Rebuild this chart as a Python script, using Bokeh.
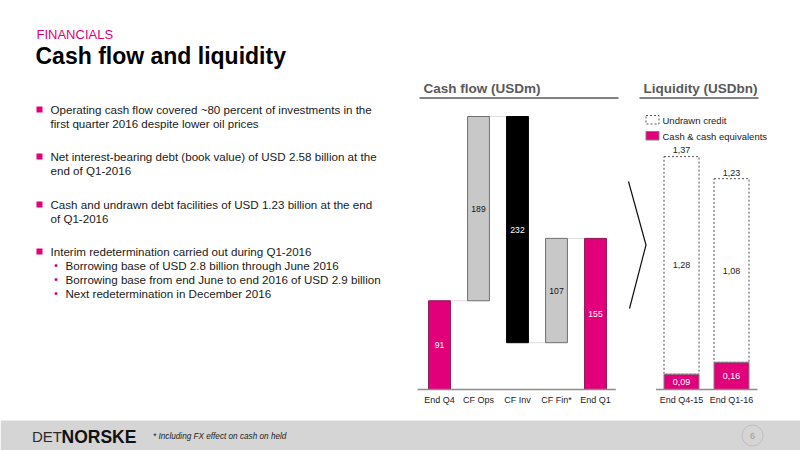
from bokeh.plotting import figure
from bokeh.models import Range1d
from bokeh.embed import file_html
from bokeh.resources import INLINE
from bokeh.core.properties import value

# ---------------- data ----------------
cf_categories = ["End Q4", "CF Ops", "CF Inv", "CF Fin*", "End Q1"]
cf_values = [91, 189, -232, 107, 155]
cf_is_total = [True, False, False, False, True]

liq_categories = ["End Q4-15", "End Q1-16"]
liq_cash = [0.09, 0.16]
liq_undrawn = [1.28, 1.08]
liq_total = [1.37, 1.23]

bullets = [
    ["Operating cash flow covered ~80 percent of investments in the",
     "first quarter 2016 despite lower oil prices"],
    ["Net interest-bearing debt (book value) of USD 2.58 billion at the",
     "end of Q1-2016"],
    ["Cash and undrawn debt facilities of USD 1.23 billion at the end",
     "of Q1-2016"],
    ["Interim redetermination carried out during Q1-2016"],
]
sub_bullets = [
    "Borrowing base of USD 2.8 billion through June 2016",
    "Borrowing base from end June to end 2016 of USD 2.9 billion",
    "Next redetermination in December 2016",
]

# ---------------- styles ----------------
PINK = "#E2007A"
FONT = value("Liberation Sans")
W, H = 800, 450
OX, OY = 0, 0


def make_range(px0, v0, ppu, frame_start, frame_len, downward=False):
    if downward:
        # value increases upward; frame_start is the bottom pixel (page y)
        start = v0 - (frame_start - px0) / ppu
    else:
        start = v0 - (px0 - frame_start) / ppu
    return Range1d(start, start + frame_len / ppu)


p = figure(width=W, height=H, x_range=Range1d(OX, OX + W), y_range=Range1d(OY + H, OY),
           output_backend="svg", toolbar_location=None, min_border=0,
           x_axis_type=None, y_axis_type=None)
p.grid.visible = False
p.outline_line_color = None
p.background_fill_color = "white"
p.border_fill_color = "white"

# chart scales (layout anchors in page pixels)
p.extra_x_ranges = {
    "cfx": make_range(439, 0, 39.0, OX, W),
    "lqx": make_range(681, 0, 50.0, OX, W),
}
p.extra_y_ranges = {
    "cfy": make_range(389, 0, 0.975, OY + H, H, downward=True),
    "lqy": make_range(389, 0, 170.0, OY + H, H, downward=True),
}

# ---------------- header ----------------
p.text(x=[36], y=[34], text=["FINANCIALS"], text_font=FONT, text_font_size="13px",
       text_color=PINK, text_baseline="middle")
p.text(x=[35], y=[55], text=["Cash flow and liquidity"], text_font=FONT, text_font_size="23px",
       text_font_style="bold", text_color="#000000", text_baseline="middle")

# ---------------- left bullets ----------------
first_y = [109, 156, 204, 251]
lx, ly, lt = [], [], []
for b, y0 in zip(bullets, first_y):
    for j, line in enumerate(b):
        lx.append(50)
        ly.append(y0 + j * 14)
        lt.append(line)
p.text(x=lx, y=ly, text=lt, text_font=FONT, text_font_size="11.6px",
       text_color="#1a1a1a", text_baseline="middle")
p.quad(left=[36] * 4, right=[42] * 4, top=[y - 3 for y in first_y], bottom=[y + 3 for y in first_y],
       fill_color=PINK, line_color=None)
sub_y = [265, 279, 293]
p.text(x=[65] * 3, y=sub_y, text=sub_bullets, text_font=FONT, text_font_size="11.6px",
       text_color="#1a1a1a", text_baseline="middle")
p.scatter(x=[55.5] * 3, y=sub_y, size=3, marker="circle", fill_color=PINK, line_color=None)

# ---------------- chart headers ----------------
p.text(x=[423, 643], y=[88, 88], text=["Cash flow (USDm)", "Liquidity (USDbn)"], text_font=FONT,
       text_font_size="13.5px", text_font_style="bold", text_color="#595959", text_baseline="middle")
p.segment(x0=[419, 639], y0=[97.5, 97.5], x1=[618, 758], y1=[97.5, 97.5],
          line_color="#595959", line_width=1.5)

# ---------------- cash flow waterfall ----------------
bottoms, tops = [], []
running = 0
for v, tot in zip(cf_values, cf_is_total):
    if tot:
        bottoms.append(0)
        tops.append(v)
        running = v
    else:
        bottoms.append(running)
        tops.append(running + v)
        running += v
xs = list(range(len(cf_categories)))
fill_colors = [PINK, "#C8C8C8", "#000000", "#C8C8C8", PINK]
line_colors = ["#8E1455", "#6E6E6E", "#000000", "#6E6E6E", "#8E1455"]
label_colors = ["white", "#111111", "white", "#111111", "white"]
bw = 0.56

# connectors
cx0, cx1, cy = [], [], []
for i in range(len(xs) - 1):
    cx0.append(xs[i] + bw / 2)
    cx1.append(xs[i + 1] - bw / 2)
    cy.append(tops[i])
p.segment(x0=cx0, y0=cy, x1=cx1, y1=cy, line_color="#BBBBBB", line_dash="1 1", line_width=1,
          x_range_name="cfx", y_range_name="cfy")

p.vbar(x=xs, bottom=bottoms, top=tops, width=bw, fill_color=fill_colors, line_color=line_colors,
       line_width=1, x_range_name="cfx", y_range_name="cfy")
mids = [(b + t) / 2 for b, t in zip(bottoms, tops)]
p.text(x=xs, y=mids, text=[str(abs(v)) for v in cf_values], text_font=FONT, text_font_size="8.6px",
       text_color=label_colors, text_align="center", text_baseline="middle",
       x_range_name="cfx", y_range_name="cfy")
# baseline + category labels
p.segment(x0=[-0.56], y0=[0], x1=[4.52], y1=[0], line_color="#8C8C8C", line_width=1.5,
          x_range_name="cfx", y_range_name="cfy")
p.text(x=xs, y=[0] * len(xs), y_offset=[10] * len(xs), text=cf_categories, text_font=FONT,
       text_font_size="9px", text_color="#222222", text_align="center", text_baseline="middle",
       x_range_name="cfx", y_range_name="cfy")

# ---------------- chevron ----------------
p.line(x=[628, 645.5, 629], y=[181, 244.5, 308], line_color="#111111", line_width=1.2)

# ---------------- liquidity ----------------
lxs = list(range(len(liq_categories)))
lbw = 0.7
tops_u = [c + u for c, u in zip(liq_cash, liq_undrawn)]
p.vbar(x=lxs, bottom=liq_cash, top=tops_u, width=lbw, fill_color="white", line_color="#555555",
       line_dash="2 2", line_width=1, x_range_name="lqx", y_range_name="lqy")
p.vbar(x=lxs, bottom=[0] * 2, top=liq_cash, width=lbw, fill_color=PINK, line_color="#7F7F7F",
       line_width=1, x_range_name="lqx", y_range_name="lqy")


def fmt(v):
    return f"{v:.2f}".replace(".", ",")


p.text(x=lxs, y=[c / 2 for c in liq_cash], text=[fmt(v) for v in liq_cash], text_font=FONT,
       text_font_size="9px", text_color="white", text_align="center", text_baseline="middle",
       x_range_name="lqx", y_range_name="lqy")
p.text(x=lxs, y=[c + u / 2 for c, u in zip(liq_cash, liq_undrawn)], text=[fmt(v) for v in liq_undrawn],
       text_font=FONT, text_font_size="9px", text_color="#222222", text_align="center",
       text_baseline="middle", x_range_name="lqx", y_range_name="lqy")
p.text(x=lxs, y=liq_total, y_offset=[-7] * 2, text=[fmt(v) for v in liq_total], text_font=FONT,
       text_font_size="9px", text_color="#222222", text_align="center", text_baseline="middle",
       x_range_name="lqx", y_range_name="lqy")
p.segment(x0=[-0.51], y0=[0], x1=[1.52], y1=[0], line_color="#8C8C8C", line_width=1.5,
          x_range_name="lqx", y_range_name="lqy")
p.text(x=lxs, y=[0] * 2, y_offset=[10] * 2, text=liq_categories, text_font=FONT,
       text_font_size="9px", text_color="#222222", text_align="center", text_baseline="middle",
       x_range_name="lqx", y_range_name="lqy")

# legend
p.quad(left=[645.5], right=[658.5], top=[115], bottom=[123.5], fill_color="white",
       line_color="#555555", line_dash="2 2", line_width=1)
p.quad(left=[645.5], right=[658.5], top=[131], bottom=[139.5], fill_color=PINK,
       line_color="#7F7F7F", line_width=1)
p.text(x=[662, 662], y=[120, 135.5], text=["Undrawn credit", "Cash & cash equivalents"],
       text_font=FONT, text_font_size="9.5px", text_color="#222222", text_baseline="middle")

# ---------------- footer ----------------
p.quad(left=[OX], right=[OX + W], top=[420], bottom=[OY + H], fill_color="#D5D5D5", line_color=None)
p.text(x=[31.5], y=[436], text=["DET"], text_font=FONT, text_font_size="15px",
       text_color="#2b2b2b", text_baseline="middle")
p.text(x=[61], y=[436], text=["NORSKE"], text_font=FONT, text_font_size="17.5px",
       text_font_style="bold", text_color="#111111", text_baseline="middle")
p.text(x=[152.5], y=[436], text=["* Including FX effect on cash on held"], text_font=FONT,
       text_font_size="8.2px", text_font_style="italic", text_color="#222222", text_baseline="middle")
p.scatter(x=[752], y=[435], size=21, marker="circle", fill_color=None, line_color="#BDBDBD",
          line_width=1)
p.text(x=[752], y=[435.5], text=["6"], text_font=FONT, text_font_size="9px", text_color="#9A9A9A",
       text_align="center", text_baseline="middle")

open("out.html", "w").write(file_html(p, INLINE))
